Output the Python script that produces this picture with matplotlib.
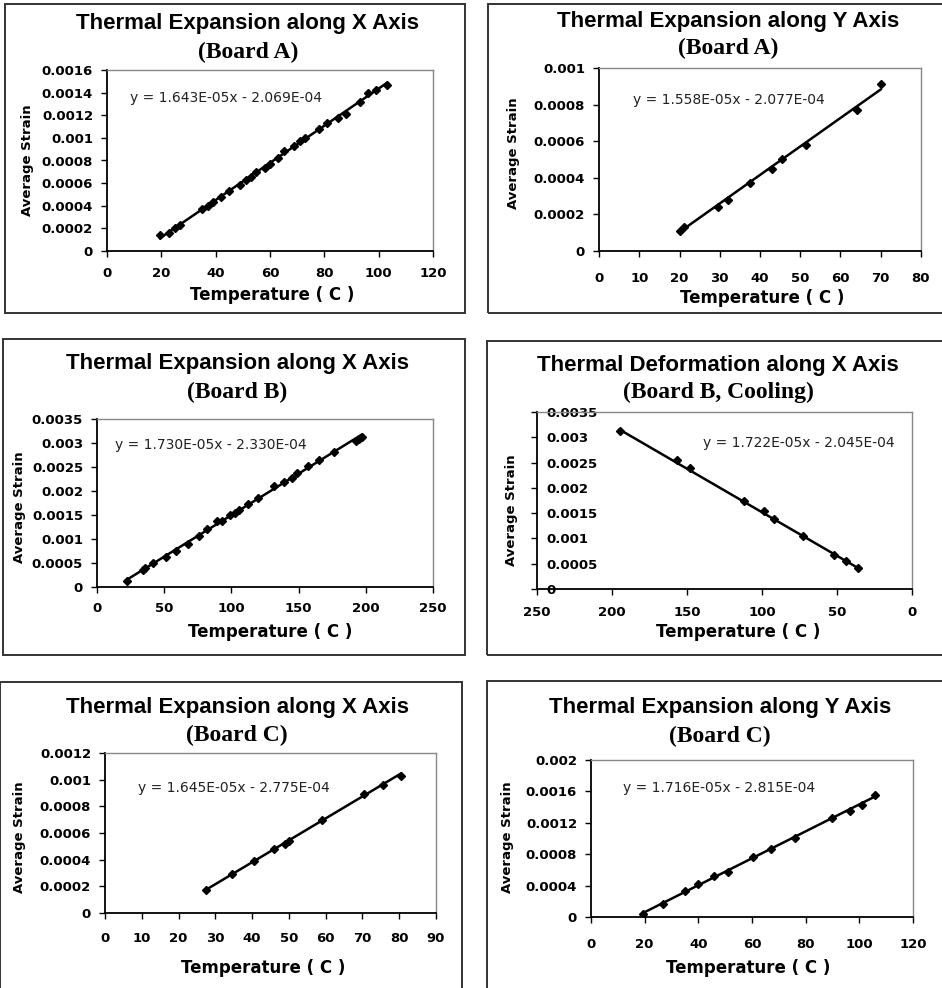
"""
Six panels of average strain vs temperature (thermal expansion tests).
Writes out.png
"""

import matplotlib
matplotlib.use("Agg")
import matplotlib.pyplot as plt
from matplotlib.patches import Rectangle
import numpy as np


# -------------------------- Data --------------------------

# Board A, X axis
ax_temp = [19.5, 23, 25, 27, 35, 37, 39, 42, 45, 49, 51, 53, 55, 58, 60, 63,
           65, 69, 71, 73, 78, 81, 85, 88, 93, 96, 99, 103]
ax_strain = [0.00014, 0.00016, 0.00020, 0.00023, 0.00037, 0.00040, 0.00043,
             0.00048, 0.00053, 0.00058, 0.00063, 0.00065, 0.00070, 0.00073,
             0.00077, 0.00082, 0.00088, 0.00093, 0.00097, 0.00100, 0.00108,
             0.00113, 0.00118, 0.00121, 0.00132, 0.00140, 0.00142, 0.00147]

# Board A, Y axis
ay_temp = [20, 21, 29.5, 32, 37.5, 43, 45.5, 51.5, 64, 70]
ay_strain = [0.00011, 0.00013, 0.00024, 0.00028, 0.00037, 0.00045, 0.00050,
             0.00058, 0.00077, 0.00091]

# Board B, X axis (heating)
bx_temp = [22, 34, 36, 42, 51, 59, 68, 76, 82, 89, 93, 99, 103, 106, 112,
           120, 132, 139, 145, 149, 157, 165, 176, 193, 195, 197]
bx_strain = [0.00012, 0.00035, 0.00039, 0.00050, 0.00063, 0.00075, 0.00090,
             0.00107, 0.00120, 0.00137, 0.00138, 0.00150, 0.00155, 0.00160,
             0.00172, 0.00185, 0.00210, 0.00218, 0.00227, 0.00238, 0.00252,
             0.00265, 0.00282, 0.00305, 0.00308, 0.00312]

# Board B, X axis (cooling)
bc_temp = [195, 157, 148, 112, 99, 92, 73, 52, 44, 36]
bc_strain = [0.00313, 0.00255, 0.00240, 0.00175, 0.00155, 0.00138, 0.00104,
             0.00068, 0.00055, 0.00042]

# Board C, X axis
cx_temp = [27.5, 34.5, 40.5, 46, 49, 50, 59, 70.5, 75.5, 80.5]
cx_strain = [0.00017, 0.00029, 0.00039, 0.00048, 0.00052, 0.00054, 0.00070,
             0.00089, 0.00096, 0.00103]

# Board C, Y axis
cy_temp = [19.5, 27, 35, 40, 46, 51, 60.5, 67, 76, 90, 96.5, 101, 106]
cy_strain = [0.00004, 0.00016, 0.00033, 0.00042, 0.00052, 0.00057, 0.00077,
             0.00087, 0.00101, 0.00126, 0.00135, 0.00143, 0.00155]

# linear trendlines (slope, intercept) as printed on each chart
slopes = [1.643e-05, 1.558e-05, 1.730e-05, 1.722e-05, 1.645e-05, 1.716e-05]
intercepts = [-2.069e-04, -2.077e-04, -2.330e-04, -2.045e-04, -2.775e-04, -2.815e-04]

titles = ["Thermal Expansion along X Axis", "Thermal Expansion along Y Axis",
          "Thermal Expansion along X Axis", "Thermal Deformation along X Axis",
          "Thermal Expansion along X Axis", "Thermal Expansion along Y Axis"]
subtitles = ["(Board A)", "(Board A)", "(Board B)", "(Board B, Cooling)",
             "(Board C)", "(Board C)"]
equations = ["y = 1.643E-05x - 2.069E-04", "y = 1.558E-05x - 2.077E-04",
             "y = 1.730E-05x - 2.330E-04", "y = 1.722E-05x - 2.045E-04",
             "y = 1.645E-05x - 2.775E-04", "y = 1.716E-05x - 2.815E-04"]

x_ticks = [[0, 20, 40, 60, 80, 100, 120],
           [0, 10, 20, 30, 40, 50, 60, 70, 80],
           [0, 50, 100, 150, 200, 250],
           [250, 200, 150, 100, 50, 0],
           [0, 10, 20, 30, 40, 50, 60, 70, 80, 90],
           [0, 20, 40, 60, 80, 100, 120]]
y_ticks = [[0, 0.0002, 0.0004, 0.0006, 0.0008, 0.001, 0.0012, 0.0014, 0.0016],
           [0, 0.0002, 0.0004, 0.0006, 0.0008, 0.001],
           [0, 0.0005, 0.001, 0.0015, 0.002, 0.0025, 0.003, 0.0035],
           [0, 0.0005, 0.001, 0.0015, 0.002, 0.0025, 0.003, 0.0035],
           [0, 0.0002, 0.0004, 0.0006, 0.0008, 0.001, 0.0012],
           [0, 0.0004, 0.0008, 0.0012, 0.0016, 0.002]]

temps = [ax_temp, ay_temp, bx_temp, bc_temp, cx_temp, cy_temp]
strains = [ax_strain, ay_strain, bx_strain, bc_strain, cx_strain, cy_strain]


# -------------------------- Layout (pixels) --------------------------

W, H = 942, 988

# plot area: left, right, top, bottom
plot_box = [(107, 433, 70, 251), (599, 921, 68, 251),
            (97, 433, 419, 587), (537, 912, 412, 589),
            (105, 436, 753, 913), (591, 913, 760, 917)]
# panel border: left, right, top, bottom
border_box = [(5, 465, 4, 313), (488, 945, 4, 313),
              (3, 465, 339, 655), (487, 945, 341, 655),
              (0, 462, 682, 995), (487, 945, 681, 995)]
# title centres (x, y line 1, y line 2)
title_pos = [(248, 24, 52), (728, 22, 48), (237, 363, 392),
             (718, 365, 392), (237, 707, 735), (720, 707, 736)]
eq_pos = [(0.07, 0.845), (0.105, 0.825), (0.054, 0.845),
          (0.443, 0.825), (0.10, 0.78), (0.10, 0.82)]
ylab_pos = [(-0.245, 0.50), (-0.267, 0.535), (-0.232, 0.476),
            (-0.067, 0.446), (-0.257, 0.475), (-0.26, 0.51)]
xlab_pos = [(0.506, -0.243), (0.506, -0.257), (0.515, -0.268),
            (0.536, -0.243), (0.477, -0.344), (0.487, -0.325)]
xtick_pad = [7.2, 10.8, 6.5, 8.6, 10, 10.8]

SANS = ["Liberation Sans", "DejaVu Sans"]
WIDE = ["DejaVu Sans"]
SERIF = ["Liberation Serif", "DejaVu Serif"]


def fmt_tick(v):
    if v == 0:
        return "0"
    return f"{v:.4f}".rstrip("0")


fig = plt.figure(figsize=(W / 100, H / 100), dpi=100)

for i in range(6):
    l, r, t, b = border_box[i]
    fig.patches.append(Rectangle((l / W, 1 - b / H), (r - l) / W, (b - t) / H,
                                 transform=fig.transFigure, fill=False,
                                 edgecolor="#333333", linewidth=1.4))

    l, r, t, b = plot_box[i]
    ax = fig.add_axes([l / W, 1 - b / H, (r - l) / W, (b - t) / H])

    x = np.array(temps[i])
    y = np.array(strains[i])
    xl = np.array([x.min(), x.max()])
    ax.plot(xl, slopes[i] * xl + intercepts[i], color="black", linewidth=1.8, zorder=2)
    ax.plot(x, y, linestyle="none", marker="D", markersize=3.8, color="black", zorder=3)

    xt = x_ticks[i]
    yt = y_ticks[i]
    ax.set_xticks(xt)
    ax.set_yticks(yt)
    ax.set_xticklabels([str(v) for v in xt], fontfamily=WIDE, fontweight="bold", fontsize=9.5)
    ax.set_yticklabels([fmt_tick(v) for v in yt], fontfamily=WIDE, fontweight="bold", fontsize=9.5)
    if i == 3:
        ax.set_xlim(250, 0)
    else:
        ax.set_xlim(min(xt), max(xt))
    ax.set_ylim(min(yt), max(yt))
    ax.tick_params(direction="out", length=4, width=1, color="black")
    ax.tick_params(axis="x", pad=xtick_pad[i])
    ax.tick_params(axis="y", pad=6)

    if i == 3:
        # value labels sit inside the plot on this chart
        ax.tick_params(axis="y", pad=-11)
        for lab in ax.get_yticklabels():
            lab.set_horizontalalignment("left")

    for side in ["top", "right"]:
        ax.spines[side].set_color("#888888")
        ax.spines[side].set_linewidth(1.0)
    for side in ["left", "bottom"]:
        ax.spines[side].set_color("black")
        ax.spines[side].set_linewidth(1.3)

    ax.text(eq_pos[i][0], eq_pos[i][1], equations[i], transform=ax.transAxes,
            ha="left", va="center", fontsize=10, fontfamily=WIDE, color="#222222")

    ax.set_ylabel("Average Strain", fontfamily=WIDE, fontweight="bold", fontsize=9.5)
    ax.yaxis.label.set_va("center")
    ax.yaxis.set_label_coords(*ylab_pos[i])
    ax.set_xlabel("Temperature ( C )", fontfamily=WIDE, fontweight="bold", fontsize=12)
    ax.xaxis.label.set_va("center")
    ax.xaxis.set_label_coords(*xlab_pos[i])

    cx, y1, y2 = title_pos[i]
    fig.text(cx / W, 1 - y1 / H, titles[i], ha="center", va="center",
             fontsize=16, fontweight="bold", fontfamily=SANS)
    fig.text(cx / W, 1 - y2 / H, subtitles[i], ha="center", va="center",
             fontsize=17, fontweight="bold", fontfamily=SERIF)

fig.savefig("out.png", dpi=100)
print("Saved out.png")
